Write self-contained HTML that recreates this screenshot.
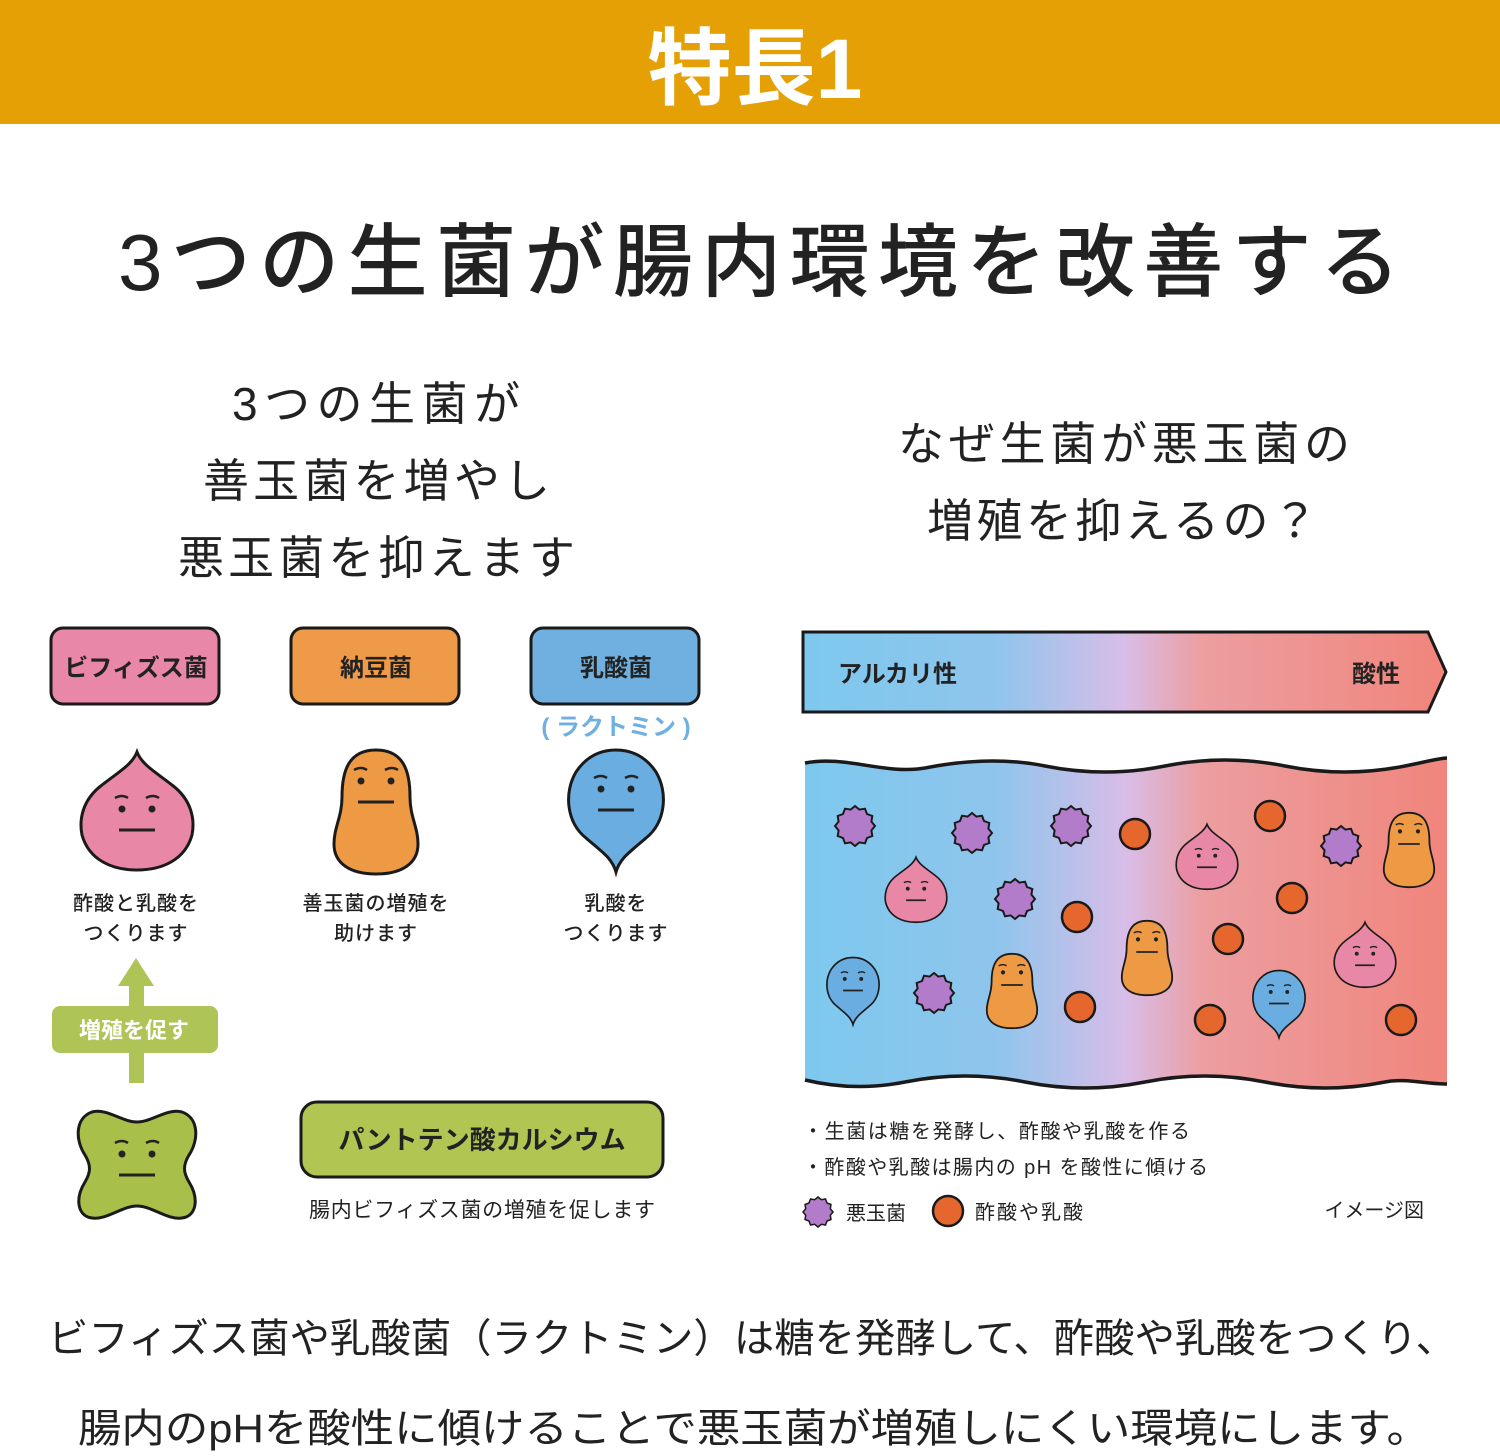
<!DOCTYPE html>
<html><head><meta charset="utf-8"><style>
html,body{margin:0;padding:0;background:#fff}
svg{display:block}
text{font-family:"Liberation Sans","Noto Sans CJK JP",sans-serif}
</style></head><body>
<svg width="1500" height="1456" viewBox="0 0 1500 1456" xmlns="http://www.w3.org/2000/svg">
<defs>
<linearGradient id="g" x1="0" x2="1" y1="0" y2="0">
<stop offset="0" stop-color="#7dc8ee"/><stop offset="0.3" stop-color="#8fc5ec"/><stop offset="0.5" stop-color="#d8bde8"/><stop offset="0.62" stop-color="#ec9ea0"/><stop offset="1" stop-color="#f0857c"/>
</linearGradient>
<g id="face"><path d="M-22,-22 q7,-4 13,0 M9,-22 q7,-4 13,0" stroke="#222" stroke-width="2.5" fill="none"/><circle cx="-15" cy="-11" r="3.5" fill="#222"/><circle cx="15" cy="-11" r="3.5" fill="#222"/><path d="M-18,10 H18" stroke="#222" stroke-width="3"/></g>
<g id="onion"><path d="M0,-63 C5,-50 20,-42 35,-30 C55,-15 58,5 55,20 C48,45 25,55 0,55 C-25,55 -48,45 -55,20 C-58,5 -55,-15 -35,-30 C-20,-42 -5,-50 0,-63Z" fill="#e887a6" stroke="#1a1a1a" stroke-width="3"/><use href="#face" y="5"/></g>
<g id="peanut"><path d="M0,-62 C28,-62 34,-40 34,-15 C34,5 42,15 42,32 C42,52 25,62 0,62 C-25,62 -42,52 -42,32 C-42,15 -34,5 -34,-15 C-34,-40 -28,-62 0,-62Z" fill="#ee9a45" stroke="#1a1a1a" stroke-width="3"/><use href="#face" y="-20"/></g>
<g id="drop"><path d="M0,72 C-4,58 -14,52 -30,38 C-50,22 -52,-8 -40,-28 C-28,-46 -12,-50 0,-50 C12,-50 28,-46 40,-28 C52,-8 50,22 30,38 C14,52 4,58 0,72Z" fill="#6aade0" stroke="#1a1a1a" stroke-width="3"/><use href="#face"/></g>
<g id="bone"><path d="M-45,-48 C-30,-52 -15,-38 0,-38 C15,-38 30,-52 45,-48 C62,-42 62,-20 52,-5 C46,5 46,12 52,22 C62,38 60,56 45,58 C30,60 15,46 0,46 C-15,46 -30,60 -45,58 C-60,56 -62,38 -52,22 C-46,12 -46,5 -52,-5 C-62,-20 -62,-42 -45,-48Z" fill="#a8c04a" stroke="#1a1a1a" stroke-width="3"/><use href="#face" y="5"/></g>
<polygon id="spk" points="20,0 16.4,4.4 17.3,10 12,12 10,17.3 4.4,16.4 0,20 -4.4,16.4 -10,17.3 -12,12 -17.3,10 -16.4,4.4 -20,0 -16.4,-4.4 -17.3,-10 -12,-12 -10,-17.3 -4.4,-16.4 0,-20 4.4,-16.4 10,-17.3 12,-12 17.3,-10 16.4,-4.4" fill="#b27ccb" stroke="#1a1a1a" stroke-width="2"/>
<circle id="dot" r="15" fill="#e6672e" stroke="#1a1a1a" stroke-width="2.5"/>
</defs>

<rect x="0" y="0" width="1500" height="124" fill="#e4a004"/>
<text x="755" y="98" font-size="84" font-weight="bold" fill="#fff" text-anchor="middle">特長1</text>

<text x="118" y="290" font-size="80" fill="#222" font-weight="500" textLength="1282" lengthAdjust="spacing">3つの生菌が腸内環境を改善する</text>

<g font-size="46" fill="#222">
<text x="232" y="420" textLength="288" lengthAdjust="spacing">3つの生菌が</text>
<text x="203" y="497" textLength="347" lengthAdjust="spacing">善玉菌を増やし</text>
<text x="178" y="574" textLength="397" lengthAdjust="spacing">悪玉菌を抑えます</text>
<text x="898" y="460" textLength="452" lengthAdjust="spacing">なぜ生菌が悪玉菌の</text>
<text x="927" y="537" textLength="391" lengthAdjust="spacing">増殖を抑えるの？</text>
</g>

<rect x="51" y="628" width="168" height="76" rx="12" fill="#e987a8" stroke="#1a1a1a" stroke-width="3"/>
<rect x="291" y="628" width="168" height="76" rx="12" fill="#ef9a48" stroke="#1a1a1a" stroke-width="3"/>
<rect x="531" y="628" width="168" height="76" rx="12" fill="#6fb0e0" stroke="#1a1a1a" stroke-width="3"/>
<g font-size="24" font-weight="bold" fill="#222" text-anchor="middle">
<text x="136" y="676">ビフィズス菌</text>
<text x="376" y="676">納豆菌</text>
<text x="616" y="676">乳酸菌</text>
</g>
<text x="616" y="735" font-size="24" font-weight="bold" fill="#6fb0e0" text-anchor="middle">( ラクトミン )</text>

<use href="#onion" x="137" y="815"/>
<use href="#peanut" x="376" y="812"/>
<use href="#drop" x="616" y="800"/>

<g font-size="20" fill="#222" text-anchor="middle" font-weight="500" letter-spacing="1">
<text x="136" y="910">酢酸と乳酸を</text><text x="136" y="940">つくります</text>
<text x="376" y="910">善玉菌の増殖を</text><text x="376" y="940">助けます</text>
<text x="616" y="910">乳酸を</text><text x="616" y="940">つくります</text>
</g>

<rect x="129" y="985" width="15" height="98" fill="#aec456"/>
<polygon points="136,958 118,986 154,986" fill="#aec456"/>
<rect x="52" y="1006" width="166" height="47" rx="8" fill="#aec456"/>
<text x="134" y="1038" font-size="22" font-weight="bold" fill="#fff" text-anchor="middle">増殖を促す</text>

<use href="#bone" x="137" y="1160"/>
<rect x="301" y="1102" width="362" height="75" rx="16" fill="#b0c552" stroke="#1a1a1a" stroke-width="3"/>
<text x="482" y="1149" font-size="26" font-weight="bold" fill="#222" text-anchor="middle">パントテン酸カルシウム</text>
<text x="309" y="1217" font-size="21" fill="#222" textLength="346" lengthAdjust="spacing">腸内ビフィズス菌の増殖を促します</text>

<polygon points="803,632 1428,632 1446,672 1428,712 803,712" fill="url(#g)" stroke="#1a1a1a" stroke-width="3"/>
<text x="838" y="682" font-size="24" font-weight="bold" fill="#222">アルカリ性</text>
<text x="1400" y="682" font-size="24" font-weight="bold" fill="#222" text-anchor="end">酸性</text>

<path d="M805,763 C845,755 885,775 925,768 C965,760 1005,758 1045,766 C1085,774 1125,774 1165,766 C1205,758 1245,758 1285,766 C1325,774 1365,774 1405,766 C1425,762 1440,758 1447,758 L1447,1084 C1425,1084 1405,1078 1385,1082 C1345,1090 1305,1090 1265,1082 C1225,1074 1185,1074 1145,1082 C1105,1090 1065,1090 1025,1082 C985,1074 945,1074 905,1082 C865,1090 830,1086 805,1080 Z" fill="url(#g)"/>
<path d="M805,763 C845,755 885,775 925,768 C965,760 1005,758 1045,766 C1085,774 1125,774 1165,766 C1205,758 1245,758 1285,766 C1325,774 1365,774 1405,766 C1425,762 1440,758 1447,758" fill="none" stroke="#1a1a1a" stroke-width="3.5"/>
<path d="M805,1080 C830,1086 865,1090 905,1082 C945,1074 985,1074 1025,1082 C1065,1090 1105,1090 1145,1082 C1185,1074 1225,1074 1265,1082 C1305,1090 1345,1090 1385,1082 C1405,1078 1425,1084 1447,1084" fill="none" stroke="#1a1a1a" stroke-width="3.5"/>

<use href="#spk" x="855" y="826"/><use href="#spk" x="972" y="833"/><use href="#spk" x="1071" y="826"/>
<use href="#spk" x="1015" y="899"/><use href="#spk" x="934" y="993"/><use href="#spk" x="1341" y="846"/>
<use href="#dot" x="1135" y="834"/><use href="#dot" x="1270" y="816"/><use href="#dot" x="1292" y="898"/>
<use href="#dot" x="1077" y="917"/><use href="#dot" x="1228" y="939"/><use href="#dot" x="1080" y="1007"/>
<use href="#dot" x="1210" y="1020"/><use href="#dot" x="1401" y="1020"/>
<use href="#onion" transform="translate(916,892) scale(0.55)"/>
<use href="#onion" transform="translate(1207,859) scale(0.55)"/>
<use href="#onion" transform="translate(1365,957) scale(0.55)"/>
<use href="#peanut" transform="translate(1409,850) scale(0.6)"/>
<use href="#peanut" transform="translate(1147,958) scale(0.6)"/>
<use href="#peanut" transform="translate(1012,991) scale(0.6)"/>
<use href="#drop" transform="translate(853,985) scale(0.55)"/>
<use href="#drop" transform="translate(1279,998) scale(0.55)"/>

<g font-size="20" fill="#222">
<text x="803" y="1138" textLength="387" lengthAdjust="spacing">・生菌は糖を発酵し、酢酸や乳酸を作る</text>
<text x="803" y="1174" textLength="405" lengthAdjust="spacing">・酢酸や乳酸は腸内の pH を酸性に傾ける</text>
<text x="846" y="1220">悪玉菌</text>
<text x="975" y="1219" textLength="108" lengthAdjust="spacing">酢酸や乳酸</text>
<text x="1424" y="1217" text-anchor="end">イメージ図</text>
</g>
<use href="#spk" transform="translate(818,1212) scale(0.75)"/>
<circle cx="948" cy="1211" r="15" fill="#e6672e" stroke="#1a1a1a" stroke-width="2.5"/>

<text x="48" y="1352" font-size="40" fill="#222" textLength="1408" lengthAdjust="spacingAndGlyphs">ビフィズス菌や乳酸菌（ラクトミン）は糖を発酵して、酢酸や乳酸をつくり、</text>
<text x="78" y="1442" font-size="40" fill="#222" textLength="1352" lengthAdjust="spacingAndGlyphs">腸内のpHを酸性に傾けることで悪玉菌が増殖しにくい環境にします。</text>
</svg>
</body></html>
